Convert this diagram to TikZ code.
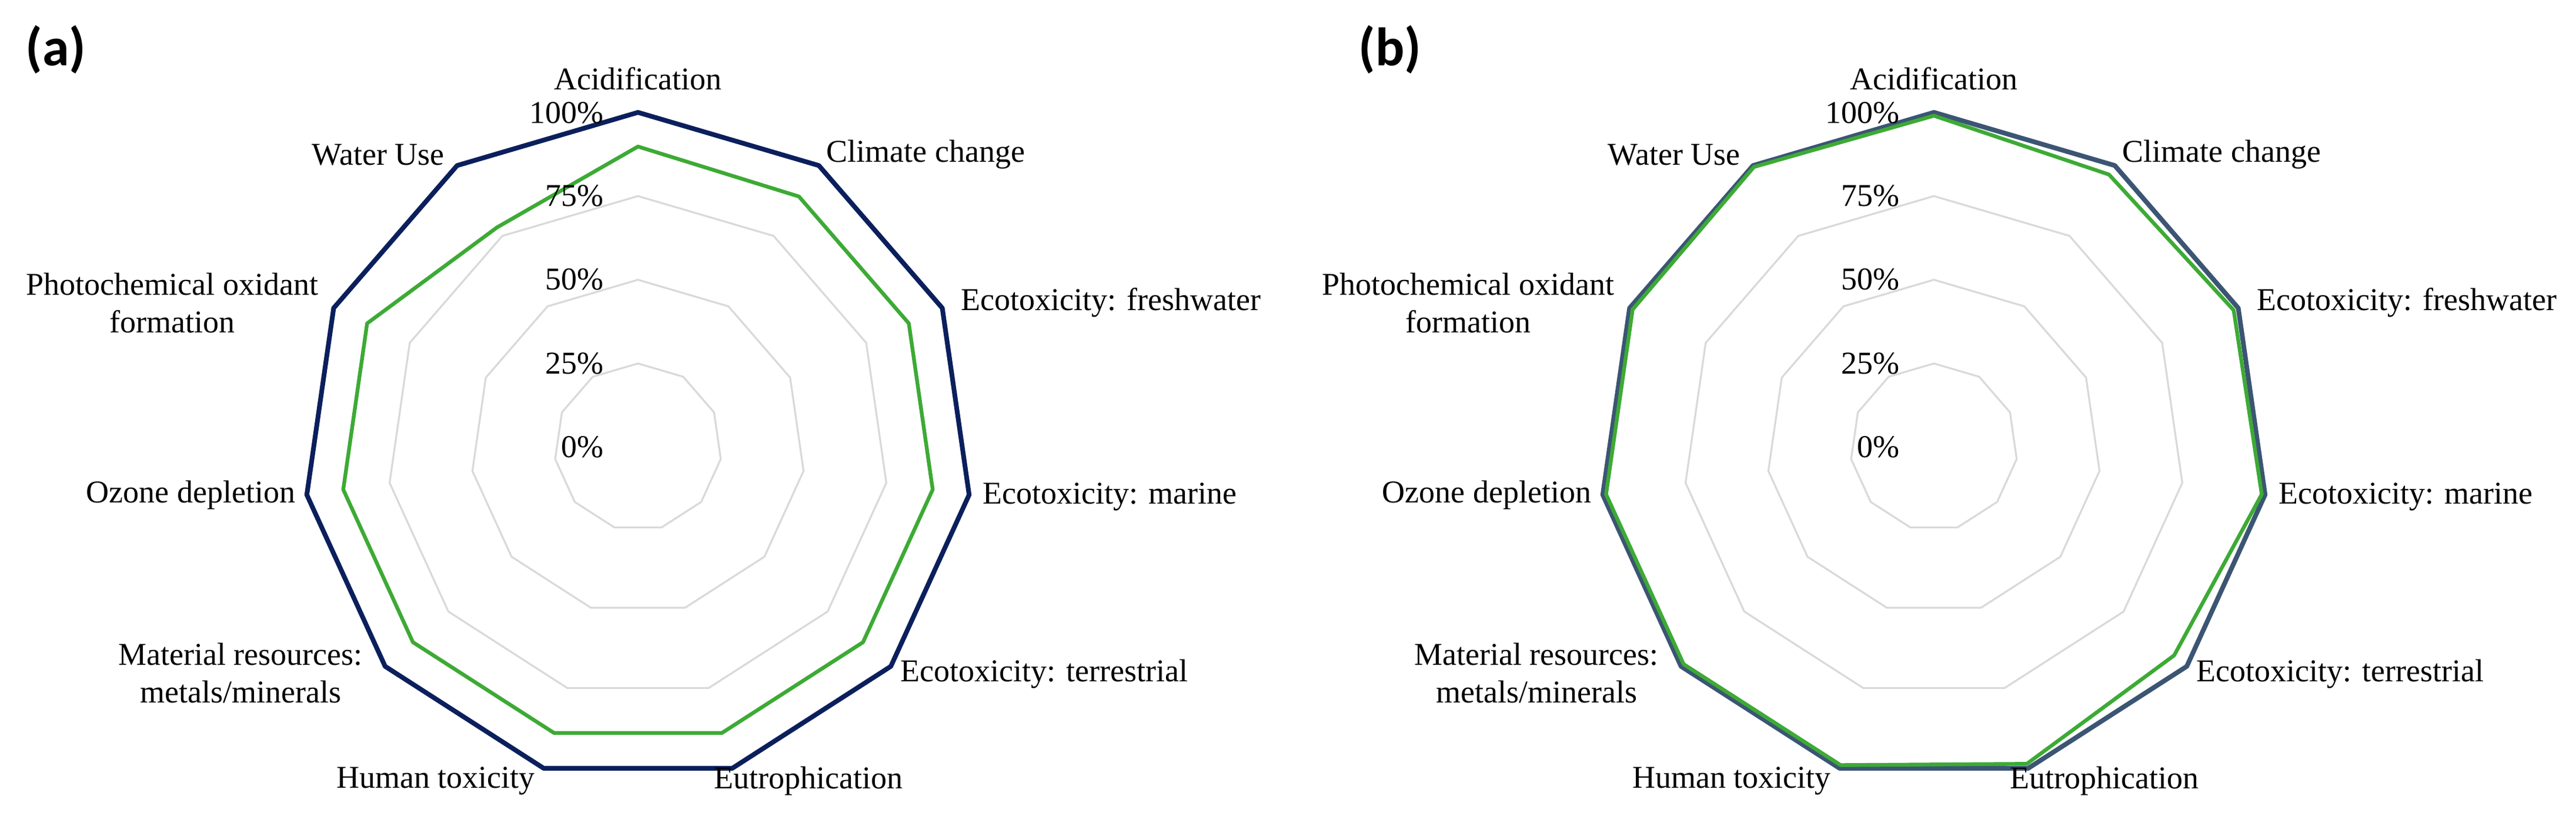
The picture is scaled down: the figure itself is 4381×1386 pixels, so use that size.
\documentclass[tikz,border=0pt]{standalone}
\usepackage{fontspec}
\setmainfont{Liberation Serif}
\newfontfamily\panelfont{Carlito}
\definecolor{navyA}{HTML}{0A1F5C}
\definecolor{navyB}{HTML}{3B5573}
\definecolor{grnL}{HTML}{3DAA35}
\definecolor{ringG}{HTML}{D9D9D9}
\tikzset{
  lab/.style={font=\fontsize{13.5}{16}\selectfont, inner sep=0pt, align=center},
  pct/.style={font=\fontsize{13.5}{16}\selectfont, inner sep=0pt, anchor=east},
  ring/.style={draw=ringG, line width=0.8pt, line join=round},
  serA/.style={draw=navyA, line width=2pt, line join=round},
  serB/.style={draw=navyB, line width=2pt, line join=round},
  serG/.style={draw=grnL, line width=1.6pt, line join=round},
  panel/.style={font=\panelfont\bfseries\fontsize{23}{27}\selectfont, inner sep=0pt}
}
\begin{document}
\begin{tikzpicture}[x=0.25pt,y=-0.25pt]
\useasboundingbox (0,0) rectangle (4381,1386);
\def\R{569}
\def\cy{760}
\newcommand{\poly}[3]{% #1 style, #2 cx, #3 list of fractions
  \def\pts{}%
  \foreach \v [count=\i from 0] in {#3} {%
    \pgfmathsetmacro{\ang}{90-\i*360/11}%
    \pgfmathsetmacro{\px}{#2+\v*\R*cos(\ang)}%
    \pgfmathsetmacro{\py}{\cy-\v*\R*sin(\ang)}%
    \xdef\pts{\pts (\px,\py)}%
  }%
  \draw[#1] plot coordinates {\pts} -- cycle;
}
\foreach \cx in {1085,3289} {
  \foreach \f in {0.25,0.5,0.75,1} {
    \poly{ring}{\cx}{\f,\f,\f,\f,\f,\f,\f,\f,\f,\f,\f}
  }
}
% panel a
\poly{serA}{1085}{1,1,1,1,1,1,1,1,1,1,1}
\poly{serG}{1085}{0.898,0.89,0.89,0.89,0.89,0.89,0.89,0.89,0.89,0.89,0.78}
% panel b
\poly{serB}{3289}{1,1,1,1,1,1,1,1,1,1,1}
\poly{serG}{3289}{0.99,0.968,0.985,0.99,0.95,0.986,0.99,0.99,0.99,0.99,0.995}
% labels
\foreach \dx/\p in {0/a,2204/b} {
  \node[lab] (acid\p) at (1085+\dx,134) {Acidification};
  \node[lab,anchor=west] (clim\p) at (1405+\dx,263) {Climate change};
  \node[lab,anchor=west] (fresh\p) at (1634+\dx,514) {Ecotoxicity: freshwater};
  \node[lab,anchor=west] (mar\p) at (1671+\dx,844) {Ecotoxicity: marine};
  \node[lab,anchor=west] (terr\p) at (1531+\dx,1146) {Ecotoxicity: terrestrial};
  \node[lab] (eut\p) at (1375+\dx,1327) {Eutrophication};
  \node[lab] (hum\p) at (741+\dx,1327) {Human toxicity};
  \node[lab] (mat\p) at (409+\dx,1144) {Material resources:\\metals/minerals};
  \node[lab,anchor=east] (ozo\p) at (503+\dx,841) {Ozone depletion};
  \node[lab] (pho\p) at (293+\dx,515) {Photochemical oxidant\\formation};
  \node[lab] (wat\p) at (643+\dx,263) {Water Use};
  \node[pct] (p100\p) at (1027+\dx,192) {100\%};
  \node[pct] (p75\p) at (1027+\dx,333) {75\%};
  \node[pct] (p50\p) at (1027+\dx,475) {50\%};
  \node[pct] (p25\p) at (1027+\dx,618) {25\%};
  \node[pct] (p0\p) at (1027+\dx,760) {0\%};
}
\node[panel] (pa) at (95,84) {(a)};
\node[panel] (pb) at (2364,84) {(b)};
\end{tikzpicture}
\end{document}
